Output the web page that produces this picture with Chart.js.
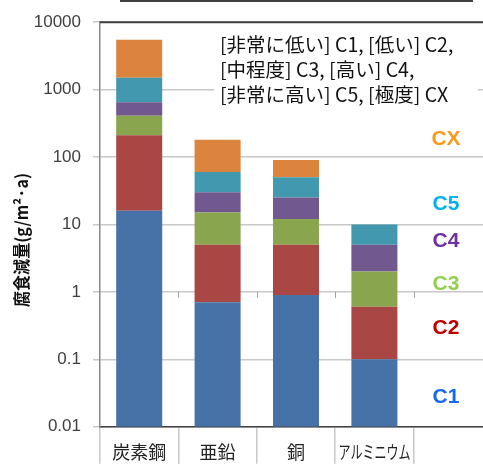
<!DOCTYPE html>
<html lang="ja">
<head>
  <meta charset="UTF-8">
  <title>腐食減量</title>
  <script src="https://cdn.jsdelivr.net/npm/chart.js"></script>
  <style>
    html, body { margin: 0; padding: 0; background: #fff; overflow: hidden; }
    .wrap { position: absolute; left: 0; top: 0; width: 492px; height: 464px; }
  </style>
</head>
<body>
  <div class="wrap"><canvas id="chart"></canvas></div>

  <script>
    // categories (last slot is empty, as in the original sheet)
    const categories = ['炭素鋼', '亜鉛', '銅', 'アルミニウム', ''];
    const classNames = ['C1', 'C2', 'C3', 'C4', 'C5', 'CX'];

    // upper limit of each corrosivity class, g/m2·a
    const c1Top = [16, 0.7, 0.9, 0.1];
    const c2Top = [210, 5, 5, 0.6];
    const c3Top = [410, 15, 12, 2];
    const c4Top = [650, 30, 25, 5];
    const c5Top = [1500, 60, 50, 10];
    const cxTop = [5500, 180, 90, null];

    const yTicks = [0.01, 0.1, 1, 10, 100, 1000, 10000];
    const legendLines = [
      '[非常に低い] C1, [低い] C2,',
      '[中程度] C3, [高い] C4,',
      '[非常に高い] C5, [極度] CX'
    ];

    const barColors = ['#4672a8', '#a94745', '#89a54e', '#71588f', '#4198af', '#db843d'];
    const labelColors = ['#1469f0', '#c00000', '#92d050', '#7030a0', '#00b0f0', '#f79a1e'];

    const tops = [c1Top, c2Top, c3Top, c4Top, c5Top, cxTop];
    const datasets = tops.map((top, k) => ({
      label: classNames[k],
      data: top.map((v, i) => {
        if (v == null) return null;
        const low = k === 0 ? yTicks[0] : tops[k - 1][i];
        return [low, v];
      }),
      backgroundColor: barColors[k],
      borderWidth: 0,
      barPercentage: 0.587,
      categoryPercentage: 1
    }));

    const JP = '"Noto Sans CJK JP", sans-serif';

    const decor = {
      id: 'decor',
      afterDraw(chart) {
        const ctx = chart.ctx;
        const area = chart.chartArea;
        const x = chart.scales.x, y = chart.scales.y;
        ctx.save();

        // top frame line of plot
        ctx.strokeStyle = '#404040';
        ctx.lineWidth = 2;
        ctx.beginPath();
        ctx.moveTo(area.left, area.top);
        ctx.lineTo(area.right, area.top);
        ctx.stroke();

        // stray line at the very top
        ctx.beginPath();
        ctx.moveTo(120, 1);
        ctx.lineTo(473, 1);
        ctx.stroke();

        // small ticks on the "1" line
        ctx.strokeStyle = '#a0a0a0';
        ctx.lineWidth = 1;
        const y1 = y.getPixelForValue(1);
        for (let i = 1; i < categories.length; i++) {
          const px = Math.round((x.getPixelForValue(i - 1) + x.getPixelForValue(i)) / 2) + 0.5;
          ctx.beginPath();
          ctx.moveTo(px, y1);
          ctx.lineTo(px, y1 + 6);
          ctx.stroke();
        }

        // legend text box
        ctx.fillStyle = '#fff';
        ctx.fillRect(214, 27, 264, 78);
        ctx.fillStyle = '#111';
        ctx.font = '19.5px ' + JP;
        ctx.textAlign = 'left';
        ctx.textBaseline = 'middle';
        const widths = [236, 203, 230];
        legendLines.forEach((t, i) => {
          ctx.fillText(t, 220, 45 + i * 25, widths[i]);
        });

        // class labels on the right
        const labelAt = [0.0285, 0.3, 1.35, 5.8, 21, 190];
        ctx.font = 'bold 21px "Liberation Sans", Arial, sans-serif';
        ctx.textAlign = 'center';
        classNames.forEach((n, k) => {
          ctx.fillStyle = labelColors[k];
          ctx.fillText(n, 446, y.getPixelForValue(labelAt[k]) + 1);
        });

        // category labels
        ctx.fillStyle = '#222';
        ctx.font = '18px ' + JP;
        categories.forEach((c, i) => {
          if (!c) return;
          ctx.fillText(c, x.getPixelForValue(i), 452, 72);
        });

        // y title
        ctx.translate(22, 240);
        ctx.rotate(-Math.PI / 2);
        ctx.font = 'bold 17px ' + JP;
        ctx.fillStyle = '#111';
        ctx.fillText('腐食減量(g/m²·a)', 0, 0, 134);

        ctx.restore();
      }
    };

    new Chart(document.getElementById('chart'), {
      type: 'bar',
      data: { labels: categories, datasets: datasets },
      plugins: [decor],
      options: {
        responsive: true,
        maintainAspectRatio: false,
        animation: false,
        layout: { padding: { top: 21.5, right: 0, bottom: 0, left: 0 } },
        plugins: { legend: { display: false }, tooltip: { enabled: false } },
        scales: {
          x: {
            stacked: true,
            afterFit: s => { s.height = 37.3; },
            ticks: { display: false },
            grid: { offset: true, drawOnChartArea: false, drawTicks: true, tickLength: 37, color: '#c8c8c8', lineWidth: 1.5 },
            border: { color: '#404040', width: 1.5 }
          },
          y: {
            type: 'logarithmic',
            min: 0.01,
            max: 10000,
            afterFit: s => { s.width = 100; },
            afterBuildTicks: s => { s.ticks = yTicks.map(v => ({ value: v })); },
            ticks: {
              callback: v => String(v),
              color: '#404040',
              padding: 12,
              font: { family: '"Liberation Sans", Arial, sans-serif', size: 17 }
            },
            grid: { color: '#c8c8c8', lineWidth: 1.5, tickLength: 7 },
            border: { color: '#888', width: 1.5 }
          }
        }
      }
    });
  </script>
</body>
</html>
